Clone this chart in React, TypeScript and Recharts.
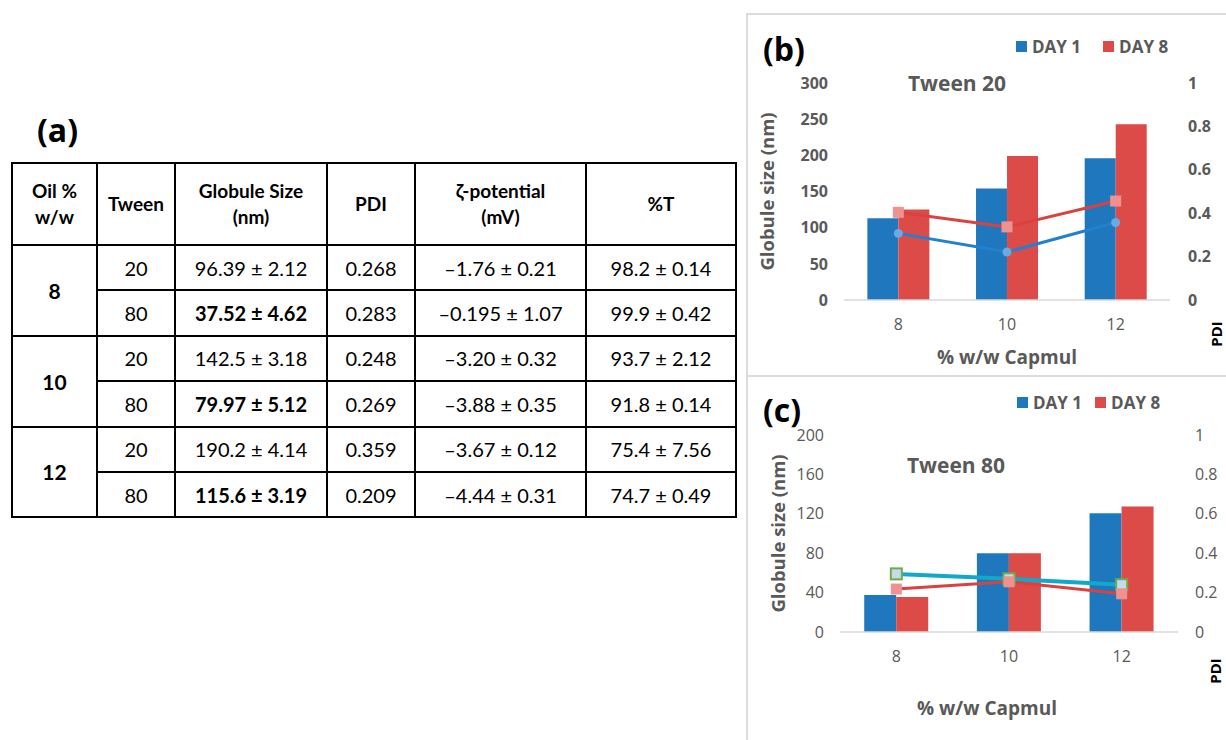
import { ComposedChart, Bar, Line, XAxis, YAxis, Legend, Label } from 'recharts'

// ---- table (a) ----
const tableHeaders = [['Oil %', 'w/w'], ['Tween'], ['Globule Size', '(nm)'], ['PDI'], ['ζ-potential', '(mV)'], ['%T']]
const oilLevels = ['8', '10', '12']
const tweenTypes = ['20', '80']
const globuleSize = ['96.39 ± 2.12', '37.52 ± 4.62', '142.5 ± 3.18', '79.97 ± 5.12', '190.2 ± 4.14', '115.6 ± 3.19']
const pdiValues = ['0.268', '0.283', '0.248', '0.269', '0.359', '0.209']
const zetaPotential = ['–1.76 ± 0.21', '–0.195 ± 1.07', '–3.20 ± 0.32', '–3.88 ± 0.35', '–3.67 ± 0.12', '–4.44 ± 0.31']
const transmittance = ['98.2 ± 0.14', '99.9 ± 0.42', '93.7 ± 2.12', '91.8 ± 0.14', '75.4 ± 7.56', '74.7 ± 0.49']
const colWidths = [85, 78, 152, 88, 171, 150]

// ---- charts (b) and (c) ----
const capmulLevels = ['8', '10', '12']

const t20SizeDay1 = [113, 154, 196]
const t20SizeDay8 = [125, 199, 243]
const t20PdiDay1 = [0.307, 0.221, 0.357]
const t20PdiDay8 = [0.404, 0.337, 0.456]

const t80SizeDay1 = [37.5, 80, 120.5]
const t80SizeDay8 = [35.5, 80, 127.5]
const t80PdiDay1 = [0.295, 0.27, 0.24]
const t80PdiDay8 = [0.218, 0.255, 0.194]

const t20SizeTicks = [0, 50, 100, 150, 200, 250, 300]
const t80SizeTicks = [0, 40, 80, 120, 160, 200]
const pdiTicks = [0, 0.2, 0.4, 0.6, 0.8, 1]

const FONT = '"Open Sans", sans-serif'
const GREY = '#595959'
const BLUE = '#1f78be'
const RED = '#dc4b48'
const PINK = '#ef9190'

function buildRows(size1: number[], size8: number[], pdi1: number[], pdi8: number[]) {
  return capmulLevels.map((c, i) => ({ capmul: c, size1: size1[i], size8: size8[i], pdi1: pdi1[i], pdi8: pdi8[i] }))
}

const squareDot = (fill: string, stroke?: string) => (p: any) => {
  if (p.cx == null || p.cy == null) return <g key={p.index} />
  return (
    <rect key={p.index} x={p.cx - 5.5} y={p.cy - 5.5} width={11} height={11}
      fill={fill} stroke={stroke || 'none'} strokeWidth={stroke ? 2 : 0} />
  )
}

const roundDot = (fill: string) => (p: any) => {
  if (p.cx == null || p.cy == null) return <g key={p.index} />
  return <circle key={p.index} cx={p.cx} cy={p.cy} r={4.5} fill={fill} />
}

// only the two bar series go in the legend
function DayLegend({ payload, gap }: any) {
  const items = (payload || []).filter((p: any) => p.type !== 'none' && String(p.dataKey).startsWith('size'))
  return (
    <div style={{ display: 'flex', alignItems: 'center', gap, fontFamily: FONT, whiteSpace: 'nowrap' }}>
      {items.map((p: any) => (
        <div key={p.value} style={{ display: 'flex', alignItems: 'center', gap: 5 }}>
          <span style={{ width: 11, height: 11, background: p.color, display: 'inline-block' }} />
          <span style={{ color: GREY, fontWeight: 700, fontSize: 17, lineHeight: '23px' }}>{p.value}</span>
        </div>
      ))}
    </div>
  )
}

interface ChartProps {
  rows: any[]
  height: number
  sizeMax: number
  sizeTicks: number[]
  tickWeight: number
  margin: { top: number; right: number; bottom: number; left: number }
  rightTickMargin: number
  legendTop: number
  legendLeft: number
  legendGap: number
  yTitleDx: number
  xTitleDx: number
  xTitleDy: number
  pdiDx: number
  pdiDy: number
  day1Stroke: string
  day1Width: number
  day1Dot: any
  day8Dot: any
}

function StabilityChart(props: ChartProps) {
  const tick = { fill: GREY, fontSize: 16, fontWeight: props.tickWeight }
  return (
    <ComposedChart width={478} height={props.height} data={props.rows} margin={props.margin}
      barCategoryGap="21.5%" barGap={0} style={{ fontFamily: FONT }}>
      <XAxis dataKey="capmul" interval={0} height={30} tickLine={false} tickSize={0} tickMargin={19}
        axisLine={{ stroke: '#d9d9d9', strokeWidth: 1.5 }} tick={{ fill: GREY, fontSize: 16 }}>
        <Label content={(p: any) => {
          const vb = p.viewBox || { x: 0, y: 0, width: 0, height: 0 }
          return (
            <text x={vb.x + vb.width / 2 + props.xTitleDx} y={vb.y + props.xTitleDy} textAnchor="middle"
              dominantBaseline="central" fill={GREY} fontSize={19} fontWeight={700}>% w/w Capmul</text>
          )
        }} />
      </XAxis>
      <YAxis yAxisId="left" width={40} domain={[0, props.sizeMax]} ticks={props.sizeTicks} interval={0}
        axisLine={false} tickLine={false} tickSize={0} tickMargin={16} tick={tick}>
        <Label content={(p: any) => {
          const vb = p.viewBox || { x: 0, y: 0, width: 0, height: 0 }
          const cx = vb.x + props.yTitleDx
          const cy = vb.y + vb.height / 2
          return (
            <text x={cx} y={cy} transform={`rotate(-90 ${cx} ${cy})`} textAnchor="middle"
              dominantBaseline="central" fill={GREY} fontSize={18.5} fontWeight={700}>Globule size (nm)</text>
          )
        }} />
      </YAxis>
      <YAxis yAxisId="right" orientation="right" width={40} domain={[0, 1]} ticks={pdiTicks} interval={0}
        axisLine={false} tickLine={false} tickSize={0} tickMargin={props.rightTickMargin} tick={tick}>
        <Label content={(p: any) => {
          const vb = p.viewBox || { x: 0, y: 0, width: 0, height: 0 }
          const cx = vb.x + props.pdiDx
          const cy = vb.y + vb.height + props.pdiDy
          return (
            <text x={cx} y={cy} transform={`rotate(-90 ${cx} ${cy})`} textAnchor="middle"
              dominantBaseline="central" fill="#000" fontSize={15} fontWeight={700}>PDI</text>
          )
        }} />
      </YAxis>
      <Legend layout="horizontal" verticalAlign="middle" align="center"
        wrapperStyle={{ top: props.legendTop, left: props.legendLeft, width: 200 }}
        content={(p: any) => <DayLegend payload={p.payload} gap={props.legendGap} />} />
      <Bar yAxisId="left" dataKey="size1" name="DAY 1" fill={BLUE} isAnimationActive={false} />
      <Bar yAxisId="left" dataKey="size8" name="DAY 8" fill={RED} isAnimationActive={false} />
      <Line yAxisId="right" dataKey="pdi1" stroke={props.day1Stroke} strokeWidth={props.day1Width}
        dot={props.day1Dot} activeDot={false} legendType="none" isAnimationActive={false} />
      <Line yAxisId="right" dataKey="pdi8" stroke="#d9423f" strokeWidth={3}
        dot={props.day8Dot} activeDot={false} legendType="none" isAnimationActive={false} />
    </ComposedChart>
  )
}

const cellBorder = '2px solid #000'

export default function App() {
  const t20Rows = buildRows(t20SizeDay1, t20SizeDay8, t20PdiDay1, t20PdiDay8)
  const t80Rows = buildRows(t80SizeDay1, t80SizeDay8, t80PdiDay1, t80PdiDay8)

  const cell = { border: cellBorder, textAlign: 'center' as const, padding: 0 }

  return (
    <div style={{ position: 'absolute', left: 0, top: 0, width: 1226, height: 740, background: '#fff', overflow: 'hidden' }}>
      {/* (a) table */}
      <div style={{ position: 'absolute', left: 37, top: 108, fontFamily: FONT, fontWeight: 700, fontSize: 32, lineHeight: '44px' }}>(a)</div>
      <table style={{
        position: 'absolute', left: 11, top: 162, borderCollapse: 'collapse', tableLayout: 'fixed',
        width: 724, fontFamily: 'Lato, sans-serif', fontSize: 20, color: '#000',
      }}>
        <colgroup>
          {colWidths.map((w, i) => <col key={i} style={{ width: w }} />)}
        </colgroup>
        <thead>
          <tr style={{ height: 82 }}>
            {tableHeaders.map((h, i) => (
              <th key={i} style={{ ...cell, fontSize: 19, lineHeight: '26px' }}>
                {h.map((line, j) => <div key={j}>{line}</div>)}
              </th>
            ))}
          </tr>
        </thead>
        <tbody>
          {globuleSize.map((g, r) => {
            const first = r % 2 === 0
            const bold = !first
            return (
              <tr key={r} style={{ height: 45.4 }}>
                {first && (
                  <td rowSpan={2} style={{ ...cell, fontWeight: 700, fontSize: 21 }}>{oilLevels[r / 2]}</td>
                )}
                <td style={cell}>{tweenTypes[r % 2]}</td>
                <td style={{ ...cell, fontWeight: bold ? 700 : 400 }}>{g}</td>
                <td style={cell}>{pdiValues[r]}</td>
                <td style={cell}>{zetaPotential[r]}</td>
                <td style={cell}>{transmittance[r]}</td>
              </tr>
            )
          })}
        </tbody>
      </table>

      {/* (b) panel */}
      <div style={{ position: 'absolute', left: 746, top: 13, width: 500, height: 360, border: '2px solid #dcdcdc' }} />
      <div style={{ position: 'absolute', left: 748, top: 14 }}>
        <StabilityChart rows={t20Rows} height={360} sizeMax={300} sizeTicks={t20SizeTicks} tickWeight={700}
          margin={{ top: 69, right: 16, bottom: 44, left: 56 }} rightTickMargin={18}
          legendTop={21} legendLeft={268} legendGap={22}
          yTitleDx={-38} xTitleDx={0} xTitleDy={57} pdiDx={46} pdiDy={34}
          day1Stroke="#2280cc" day1Width={3} day1Dot={roundDot('#6aaae4')} day8Dot={squareDot(PINK)} />
      </div>
      <div style={{ position: 'absolute', left: 763, top: 27, fontFamily: FONT, fontWeight: 700, fontSize: 32, lineHeight: '44px' }}>(b)</div>
      <div style={{ position: 'absolute', left: 957, top: 83, transform: 'translate(-50%, -50%)', fontFamily: FONT, fontWeight: 700, fontSize: 21, color: GREY, whiteSpace: 'nowrap' }}>Tween 20</div>

      {/* (c) panel */}
      <div style={{ position: 'absolute', left: 746, top: 375, width: 500, height: 400, border: '2px solid #dcdcdc' }} />
      <div style={{ position: 'absolute', left: 748, top: 377 }}>
        <StabilityChart rows={t80Rows} height={363} sizeMax={200} sizeTicks={t80SizeTicks} tickWeight={400}
          margin={{ top: 58, right: 8, bottom: 78, left: 52 }} rightTickMargin={17}
          legendTop={14} legendLeft={269} legendGap={13}
          yTitleDx={-23} xTitleDx={-22} xTitleDy={76} pdiDx={37} pdiDy={39}
          day1Stroke="#10a9cb" day1Width={4} day1Dot={squareDot('#c5d9f1', '#70ad47')} day8Dot={squareDot(PINK)} />
      </div>
      <div style={{ position: 'absolute', left: 763, top: 388, fontFamily: FONT, fontWeight: 700, fontSize: 32, lineHeight: '44px' }}>(c)</div>
      <div style={{ position: 'absolute', left: 956, top: 465, transform: 'translate(-50%, -50%)', fontFamily: FONT, fontWeight: 700, fontSize: 21, color: GREY, whiteSpace: 'nowrap' }}>Tween 80</div>
    </div>
  )
}
